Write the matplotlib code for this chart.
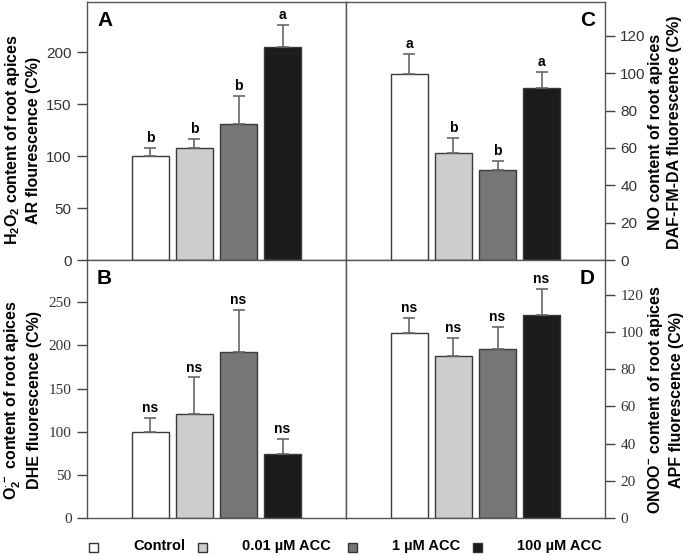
import matplotlib.pyplot as plt
from matplotlib.patches import Rectangle

plt.rcParams['font.family'] = ['Liberation Sans', 'DejaVu Sans']
plt.rcParams['mathtext.fontset'] = 'custom'
plt.rcParams['mathtext.rm'] = 'Liberation Sans:bold'
plt.rcParams['mathtext.bf'] = 'Liberation Sans:bold'
plt.rcParams['mathtext.default'] = 'bf'

groups = ["Control", "0.01 µM ACC", "1 µM ACC", "100 µM ACC"]
colors = ["white", "#cdcdcd", "#767676", "#1c1c1c"]

# panel A - H2O2
h2o2 = [100, 107.5, 131, 205]
h2o2_err = [8, 9, 27, 21]
h2o2_sig = ["b", "b", "b", "a"]

# panel B - superoxide
o2 = [100, 121, 192, 74]
o2_err = [16, 42, 49, 18]
o2_sig = ["ns", "ns", "ns", "ns"]

# panel C - NO
no = [99.5, 57.5, 48, 92.3]
no_err = [11, 8, 5, 8.3]
no_sig = ["a", "b", "b", "a"]

# panel D - peroxynitrite
onoo = [99.6, 87.1, 91, 109.3]
onoo_err = [8, 9.5, 11.5, 13.6]
onoo_sig = ["ns", "ns", "ns", "ns"]

W, H = 685, 556
fig = plt.figure(figsize=(W / 100, H / 100), dpi=100)

def fx(px):
    return px / W

def fy(py):
    return 1 - py / H

ax_a = fig.add_axes([fx(87), fy(260), fx(259), 258 / H])
ax_c = fig.add_axes([fx(346), fy(260), fx(259), 258 / H])
ax_b = fig.add_axes([fx(87), fy(518), fx(259), 258 / H])
ax_d = fig.add_axes([fx(346), fy(518), fx(259), 258 / H])

panels = [
    (ax_a, h2o2, h2o2_err, h2o2_sig, "A", 248.4, range(0, 201, 50), "left", "Liberation Sans"),
    (ax_b, o2, o2_err, o2_sig, "B", 299, range(0, 251, 50), "left", "Liberation Serif"),
    (ax_c, no, no_err, no_sig, "C", 138.2, range(0, 121, 20), "right", "Liberation Sans"),
    (ax_d, onoo, onoo_err, onoo_sig, "D", 138.6, range(0, 121, 20), "right", "Liberation Serif"),
]

x = [0, 1, 2, 3]
for ax, vals, errs, sig, letter, ytop, ticks, side, tfont in panels:
    ax.bar(x, vals, width=0.86, color=colors, edgecolor="#3a3a3a", linewidth=1)
    ax.errorbar(x, vals, yerr=[[0] * 4, errs], fmt="none", ecolor="#666666",
                elinewidth=1.2, capsize=4, capthick=1.2)
    for xi, v, e, s in zip(x, vals, errs, sig):
        ax.annotate(s, (xi, v + e), xytext=(0, 2), textcoords="offset points",
                    ha="center", va="bottom", fontsize=10, fontweight="bold")
    ax.set_xlim(-1.443, 4.443)
    ax.set_ylim(0, ytop)
    ax.set_xticks([])
    ax.set_yticks(list(ticks))
    if side == "right":
        ax.yaxis.tick_right()
        ax.text(0.961, 0.93, letter, transform=ax.transAxes, ha="right", va="center",
                fontsize=15, fontweight="bold")
    else:
        ax.text(0.039, 0.93, letter, transform=ax.transAxes, ha="left", va="center",
                fontsize=15, fontweight="bold")
    ax.tick_params(axis="y", direction="out", length=7, width=1, color="#444444",
                   labelsize=11, labelcolor="#333333", pad=4)
    for lab in ax.get_yticklabels():
        lab.set_fontfamily(tfont)
    for sp in ax.spines.values():
        sp.set_color("#555555")
        sp.set_linewidth(1)

# y axis labels
lab_kw = dict(rotation=90, ha="center", va="center", fontsize=11.5, fontweight="bold",
              multialignment="center", linespacing=1.3)
fig.text(fx(22), fy(140), "H$_2$O$_2$ content of root apices\nAR flourescence (C%)", **lab_kw)
fig.text(fx(22), fy(400), "O$_2^{\\cdot-}$ content of root apices\nDHE fluorescence (C%)", **lab_kw)
fig.text(fx(665), fy(132), "NO content of root apices\nDAF-FM-DA fluorescence (C%)", **lab_kw)
fig.text(fx(665), fy(400), "ONOO$^{-}$ content of root apices\nAPF fluorescence (C%)", **lab_kw)

# legend along the bottom
sq_x = [93, 202, 352, 477]
txt_x = [133, 242, 392, 517]
for i in range(4):
    fig.patches.append(Rectangle((fx(sq_x[i] - 4.5), fy(547 + 4.5)), fx(9), 9 / H,
                                 transform=fig.transFigure, facecolor=colors[i],
                                 edgecolor="#333333", linewidth=1))
    fig.text(fx(txt_x[i]), fy(546), groups[i], ha="left", va="center",
             fontsize=10.5, fontweight="bold")

fig.savefig("out.png", dpi=100)
